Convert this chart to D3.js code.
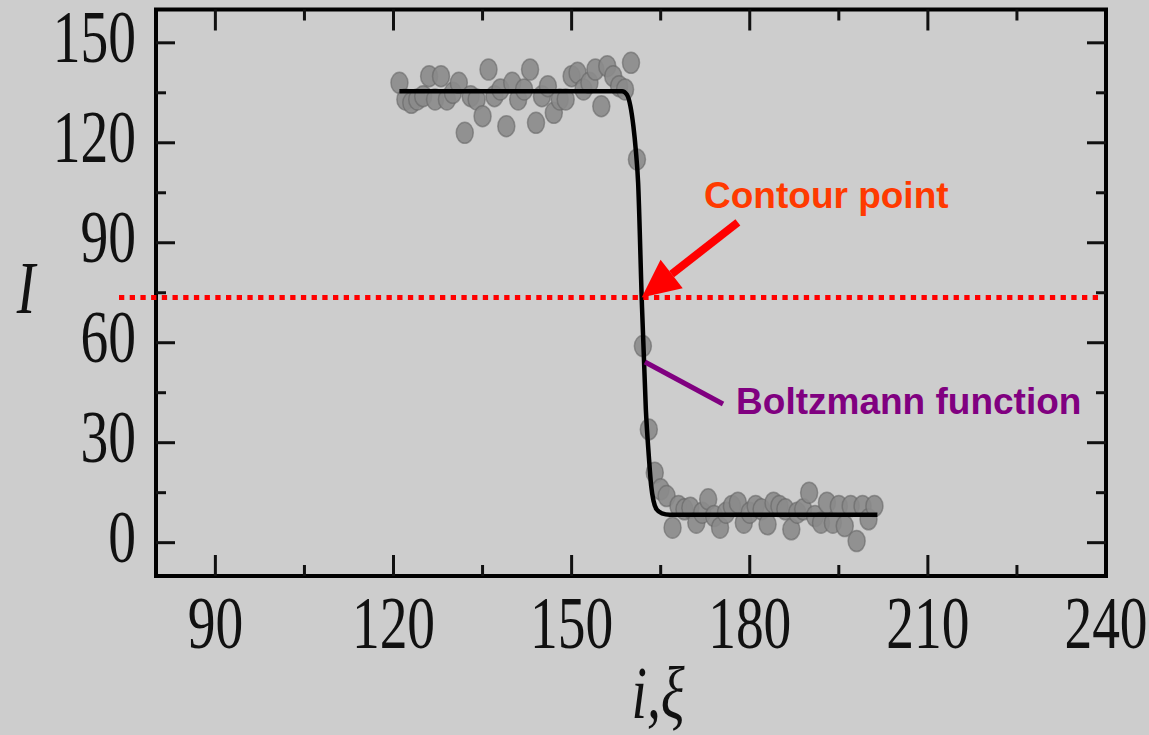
<!DOCTYPE html>
<html lang="en">
  <head>
    <meta charset="UTF-8" />
    <title>Boltzmann contour point</title>
    <script src="https://d3js.org/d3.v7.min.js"></script>
    <style>
      html, body {
        margin: 0;
        padding: 0;
        background: #cdcdcd;
      }
      svg {
        display: block;
      }
      .tick-label {
        font-family: "Liberation Serif", "Times New Roman", serif;
        font-size: 74px;
        fill: #111;
      }
      .axis-title {
        font-family: "Liberation Serif", "Times New Roman", serif;
        font-style: italic;
        font-size: 74px;
        fill: #111;
      }
      .note {
        font-family: "Liberation Sans", Arial, sans-serif;
        font-weight: bold;
        font-size: 37px;
      }
    </style>
  </head>
  <body>
    <script>
      // measured intensity along the profile (pixel index i)
      const sampleI = [
        121, 122, 123, 124, 125, 126, 127, 128, 129, 130,
        131, 132, 133, 134, 135, 136, 137, 138, 139, 140,
        141, 142, 143, 144, 145, 146, 147, 148, 149, 150,
        151, 152, 153, 154, 155, 156, 157, 158, 159, 160,
        161, 162, 163, 164, 165, 166, 167, 168, 169, 170,
        171, 172, 173, 174, 175, 176, 177, 178, 179, 180,
        181, 182, 183, 184, 185, 186, 187, 188, 189, 190,
        191, 192, 193, 194, 195, 196, 197, 198, 199, 200, 201
      ];
      const sampleVal = [
        138, 133, 132, 133, 134, 140, 133, 140, 133, 135,
        138, 123, 134, 133, 128, 142, 134, 136, 125, 138,
        133, 136, 142, 126, 134, 137, 129, 133, 133, 140,
        141, 136, 138, 142, 131, 143, 140, 137, 136, 144,
        115, 59, 34, 21, 16, 14, 4.5, 11, 10, 10.5,
        6, 9, 13, 8, 4.5, 9, 11, 12, 6, 9,
        11, 10, 5.5, 12, 11, 10, 4, 9, 10, 15,
        8, 6, 12, 6, 11, 5, 11, 0.5, 11, 7, 11
      ];

      // fitted Boltzmann curve
      const fitI = [121, 158.5, 159.3, 159.9, 160.4, 160.8, 161.2, 161.8, 162.5, 163.0, 163.4, 163.8, 164.3, 165.2, 166.5, 201.5];
      const fitVal = [135.5, 135.5, 134.5, 131, 125, 118, 108, 73.6, 40, 26, 17, 12.5, 10, 8.8, 8.4, 8.4];

      const contourLevel = 73.6;
      const contourPoint = [161.8, 73.6];

      const xTicks = [90, 120, 150, 180, 210, 240];
      const xMinor = [105, 135, 165, 195, 225];
      const yTicks = [0, 30, 60, 90, 120, 150];
      const yMinor = [15, 45, 75, 105, 135];

      const W = 1149, H = 735;
      const pL = 156, pR = 1106, pT = 9.5, pB = 576;

      const x = d3.scaleLinear().domain([80, 240]).range([pL, pR]);
      const y = d3.scaleLinear().domain([-10, 160]).range([pB, pT]);

      const svg = d3.select("body").append("svg")
        .attr("width", W)
        .attr("height", H);

      svg.append("rect")
        .attr("width", W)
        .attr("height", H)
        .attr("fill", "#cdcdcd");

      // scatter
      const points = sampleI.map((d, i) => ({ i: d, v: sampleVal[i] }));
      svg.append("g")
        .selectAll("ellipse")
        .data(points)
        .enter()
        .append("ellipse")
        .attr("cx", d => x(d.i))
        .attr("cy", d => y(d.v))
        .attr("rx", 8.5)
        .attr("ry", 10.5)
        .attr("fill", "#8b8b8b")
        .attr("fill-opacity", 0.9)
        .attr("stroke", "#666")
        .attr("stroke-opacity", 0.6)
        .attr("stroke-width", 1.5);

      // fit curve
      const line = d3.line()
        .x(d => x(d[0]))
        .y(d => y(d[1]))
        .curve(d3.curveMonotoneX);
      svg.append("path")
        .datum(fitI.map((d, i) => [d, fitVal[i]]))
        .attr("d", line)
        .attr("fill", "none")
        .attr("stroke", "#000")
        .attr("stroke-width", 4.5)
        .attr("stroke-linejoin", "round");

      // frame
      svg.append("rect")
        .attr("x", pL)
        .attr("y", pT)
        .attr("width", pR - pL)
        .attr("height", pB - pT)
        .attr("fill", "none")
        .attr("stroke", "#000")
        .attr("stroke-width", 4);

      // inward ticks on all four sides
      const tickG = svg.append("g").attr("stroke", "#111").attr("stroke-width", 3);
      function xTick(v, len) {
        tickG.append("line").attr("x1", x(v)).attr("x2", x(v)).attr("y1", pB).attr("y2", pB - len);
        tickG.append("line").attr("x1", x(v)).attr("x2", x(v)).attr("y1", pT).attr("y2", pT + len);
      }
      function yTick(v, len) {
        tickG.append("line").attr("y1", y(v)).attr("y2", y(v)).attr("x1", pL).attr("x2", pL + len);
        tickG.append("line").attr("y1", y(v)).attr("y2", y(v)).attr("x1", pR).attr("x2", pR - len);
      }
      xTicks.filter(v => v < 240).forEach(v => xTick(v, 21));
      xMinor.forEach(v => xTick(v, 11));
      yTicks.forEach(v => yTick(v, 19));
      yMinor.forEach(v => yTick(v, 10));

      // squeezed serif text, like the original figure
      function label(px, py, txt, anchor, cls) {
        svg.append("g")
          .attr("transform", `translate(${px},${py}) scale(0.75,1)`)
          .append("text")
          .attr("class", cls)
          .attr("text-anchor", anchor)
          .text(txt);
      }
      xTicks.forEach(v => label(x(v), pB + 72, v, "middle", "tick-label"));
      yTicks.forEach(v => label(pL - 20, y(v) + 19, v, "end", "tick-label"));
      label(26, 313, "I", "middle", "axis-title");
      label(658, 718, "i,ξ", "middle", "axis-title");

      // contour level
      svg.append("line")
        .attr("x1", 119)
        .attr("x2", 1100)
        .attr("y1", y(contourLevel))
        .attr("y2", y(contourLevel))
        .attr("stroke", "#ff0000")
        .attr("stroke-width", 5)
        .attr("stroke-dasharray", "5.3 5.4");

      // red arrow to the contour point
      const tip = [x(contourPoint[0]), y(contourPoint[1])];
      const tail = [x(178), y(96.1)];
      const ang = Math.atan2(tip[1] - tail[1], tip[0] - tail[0]);
      const headLen = 38, headHalf = 18;
      const base = [tip[0] - headLen * Math.cos(ang), tip[1] - headLen * Math.sin(ang)];
      svg.append("line")
        .attr("x1", tail[0]).attr("y1", tail[1])
        .attr("x2", base[0]).attr("y2", base[1])
        .attr("stroke", "#ff0000")
        .attr("stroke-width", 8);
      svg.append("polygon")
        .attr("points", [
          tip,
          [base[0] + headHalf * Math.sin(ang), base[1] - headHalf * Math.cos(ang)],
          [base[0] - headHalf * Math.sin(ang), base[1] + headHalf * Math.cos(ang)]
        ].map(p => p.join(",")).join(" "))
        .attr("fill", "#ff0000");

      svg.append("text")
        .attr("class", "note")
        .attr("x", x(172.3))
        .attr("y", y(100.3))
        .attr("fill", "#ff3a00")
        .text("Contour point");

      // purple leader to the fitted curve
      svg.append("line")
        .attr("x1", x(162.35)).attr("y1", y(54.2))
        .attr("x2", x(175.5)).attr("y2", y(41.6))
        .attr("stroke", "#800080")
        .attr("stroke-width", 5);

      svg.append("text")
        .attr("class", "note")
        .attr("x", x(177.7))
        .attr("y", y(38.5))
        .attr("fill", "#800080")
        .text("Boltzmann function");
    </script>
  </body>
</html>
